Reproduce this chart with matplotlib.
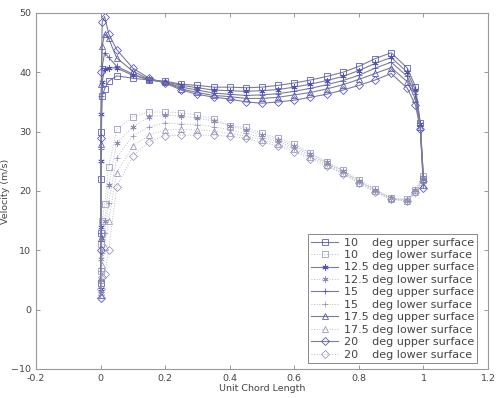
import matplotlib
matplotlib.use('Agg')
import matplotlib.pyplot as plt
from matplotlib.ticker import FuncFormatter

# chordwise stations
x_upper = [0.0, 0.0005, 0.00125, 0.0025, 0.005, 0.0125, 0.025, 0.05, 0.1, 0.15, 0.2, 0.25,
           0.3, 0.35, 0.4, 0.45, 0.5, 0.55, 0.6, 0.65, 0.7, 0.75, 0.8, 0.85, 0.9, 0.95,
           0.975, 0.99, 1.0]
x_lower = [0.0, 0.0025, 0.005, 0.0125, 0.025, 0.05, 0.1, 0.15, 0.2, 0.25, 0.3, 0.35, 0.4,
           0.45, 0.5, 0.55, 0.6, 0.65, 0.7, 0.75, 0.8, 0.85, 0.9, 0.95, 0.975, 1.0]

angles = ['10', '12.5', '15', '17.5', '20']

v_upper = {
    '10':   [4.5, 13, 22, 30, 36, 37.2, 38.5, 39.4, 39.0, 38.7, 38.5, 38.0, 37.8, 37.5, 37.5,
             37.4, 37.5, 37.8, 38.2, 38.7, 39.3, 40.0, 41.0, 42.3, 43.3, 40.7, 37.6, 31.5, 22.0],
    '12.5': [3.5, 14, 25, 33, 38.4, 40.6, 40.8, 40.7, 39.5, 38.8, 38.4, 37.8, 37.4, 37.0, 36.9,
             36.8, 36.9, 37.1, 37.5, 38.0, 38.6, 39.3, 40.3, 41.5, 42.5, 40.0, 37.0, 31.3, 22.0],
    '15':   [3.0, 13, 27, 36, 41, 43.3, 42.5, 41.0, 39.7, 38.7, 38.3, 37.5, 37.0, 36.5, 36.3,
             36.1, 36.2, 36.4, 36.8, 37.3, 37.9, 38.6, 39.5, 40.7, 41.7, 39.3, 36.3, 31.0, 21.5],
    '17.5': [2.5, 12, 28, 38, 44.5, 46.4, 45.7, 42.4, 40.2, 38.8, 38.3, 37.2, 36.6, 36.1, 35.9,
             35.6, 35.6, 35.8, 36.2, 36.6, 37.2, 37.9, 38.8, 39.8, 40.8, 38.4, 35.5, 30.8, 21.0],
    '20':   [2.0, 10, 29, 40, 48.5, 49.4, 46.5, 43.8, 40.7, 39.0, 38.2, 37.0, 36.3, 35.8, 35.5,
             35.0, 34.8, 35.0, 35.3, 35.8, 36.3, 37.0, 37.8, 38.7, 39.8, 37.3, 34.5, 30.5, 20.5],
}
v_lower = {
    '10':   [6.5, 11, 15, 17.8, 24, 30.4, 32.5, 33.3, 33.3, 33.2, 32.8, 32.1, 31.0, 30.7, 29.7,
             28.9, 27.9, 26.4, 24.9, 23.5, 21.9, 20.3, 18.8, 18.6, 20.2, 22.5],
    '12.5': [5.0, 8.5, 12, 15, 21, 28.1, 30.8, 32.5, 32.8, 32.6, 32.3, 31.8, 31.0, 30.3, 29.4,
             28.6, 27.6, 26.2, 24.8, 23.4, 21.7, 20.2, 18.8, 18.5, 20.1, 22.3],
    '15':   [4.0, 6.5, 9.5, 13, 18, 25.6, 29.3, 30.8, 31.5, 31.3, 31.2, 30.8, 30.3, 29.7, 29.0,
             28.3, 27.3, 26.0, 24.6, 23.2, 21.6, 20.1, 18.7, 18.4, 20.0, 22.0],
    '17.5': [3.0, 5, 7.5, 10.5, 15, 23.1, 27.6, 29.4, 30.3, 30.4, 30.3, 30.1, 29.7, 29.3, 28.6,
             28.0, 27.0, 25.7, 24.4, 23.0, 21.4, 20.0, 18.6, 18.3, 19.9, 21.8],
    '20':   [2.0, 3.5, 5.5, 6, 10, 20.7, 25.9, 28.3, 29.3, 29.4, 29.4, 29.4, 29.2, 28.9, 28.2,
             27.6, 26.6, 25.4, 24.2, 22.9, 21.3, 19.8, 18.6, 18.3, 19.8, 21.6],
}

markers = {'10': 's', '12.5': (6, 2, 0), '15': '+', '17.5': '^', '20': 'D'}
msizes = {'10': 4, '12.5': 4.5, '15': 5, '17.5': 4.2, '20': 3.6}
pad = {'10': '10    ', '12.5': '12.5 ', '15': '15    ', '17.5': '17.5 ', '20': '20    '}

plt.rcParams['font.family'] = 'DejaVu Sans'
fig = plt.figure(figsize=(4.96, 3.98), dpi=100)
ax = fig.add_axes([0.0726, 0.0729, 0.9114, 0.8945])

for a in angles:
    ax.plot(x_upper, v_upper[a], '-', color='#7c7c98', lw=0.8,
            marker=markers[a], ms=msizes[a], mfc='none', mec='#5050bc', mew=0.55,
            label=pad[a] + 'deg upper surface')
    ax.plot(x_lower, v_lower[a], ':', color='#bcbccc', lw=0.7,
            marker=markers[a], ms=msizes[a], mfc='none', mec='#8a8ab4', mew=0.5,
            label=pad[a] + 'deg lower surface')

ax.set_xlim(-0.2, 1.2)
ax.set_ylim(-10, 50)
ax.set_xticks([-0.2, 0, 0.2, 0.4, 0.6, 0.8, 1.0, 1.2])
ax.set_yticks(range(-10, 51, 10))
ax.xaxis.set_major_formatter(FuncFormatter(lambda v, p: '%g' % round(v, 2)))
ax.tick_params(direction='in', top=True, right=True, labelsize=6.8,
               colors='#888888', labelcolor='#444444', length=3, width=0.6)
for s in ax.spines.values():
    s.set_color('#999999')
    s.set_linewidth(0.8)

ax.set_xlabel('Unit Chord Length', fontsize=6.8, color='#444444', labelpad=1)
ax.set_ylabel('Velocity (m/s)', fontsize=6.8, color='#444444', labelpad=1)

leg = ax.legend(loc='lower right', bbox_to_anchor=(0.976, 0.017), fontsize=8,
                frameon=True, fancybox=False, edgecolor='#888888', framealpha=1,
                borderpad=0.3, labelspacing=0.22, handlelength=2.4, handletextpad=0.5,
                borderaxespad=0)
leg.get_frame().set_linewidth(0.7)
for t in leg.get_texts():
    t.set_color('#444444')

fig.savefig('out.png', dpi=100)
